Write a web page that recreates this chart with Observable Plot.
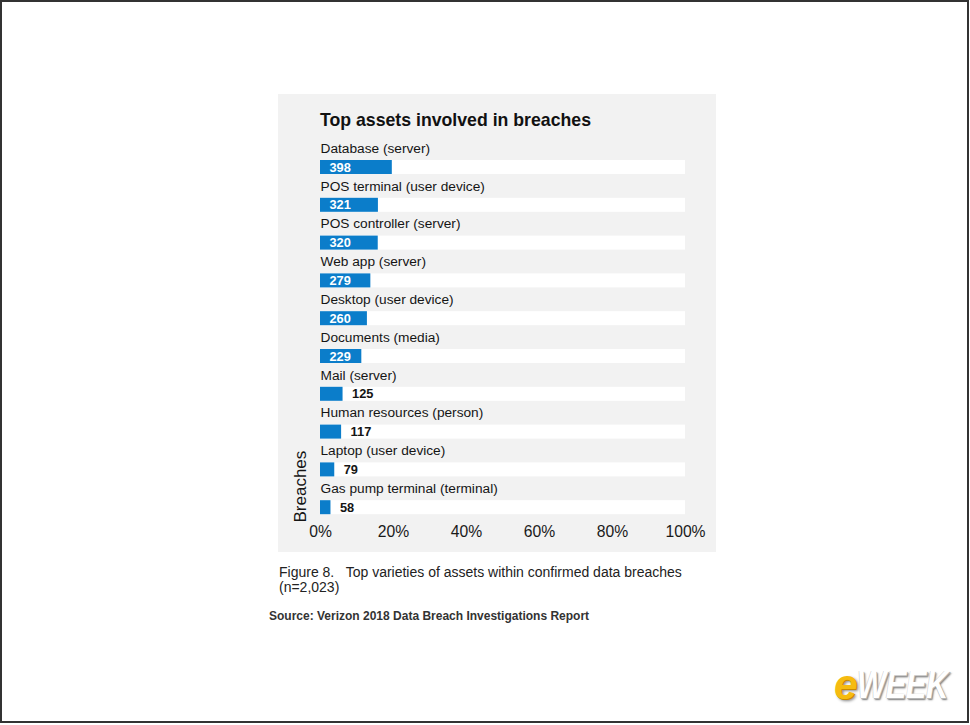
<!DOCTYPE html>
<html><head><meta charset="utf-8">
<script src="https://cdn.jsdelivr.net/npm/d3@7"></script>
<script src="https://cdn.jsdelivr.net/npm/@observablehq/plot@0.6"></script>
<style>
html,body{margin:0;padding:0;background:#fff;}
body{font-family:"Liberation Sans",Arial,sans-serif;}
#page{position:relative;box-sizing:border-box;width:969px;height:723px;border:2px solid #333;background:#fff;overflow:hidden;}
#chart{position:absolute;left:276px;top:92px;}
#chart svg{display:block;}
#title{position:absolute;left:318px;top:109px;font-size:17.7px;line-height:18px;font-weight:bold;color:#111;white-space:nowrap;}
#caption{position:absolute;left:277px;top:563px;font-size:14px;line-height:15px;color:#222;white-space:pre;}
#source{position:absolute;left:267px;top:607px;font-size:12px;line-height:14px;font-weight:bold;color:#333;white-space:nowrap;}
.logo{position:absolute;white-space:nowrap;font-family:"Liberation Sans",Arial,sans-serif;font-weight:bold;font-style:italic;}
#logoE{left:832px;top:662px;font-size:42px;line-height:42px;color:#f6bb10;text-shadow:1px 1px 0 #c98a00,2px 2px 3px #888;}
#logoW{left:855px;top:663px;font-size:39px;line-height:39px;color:#fff;transform:scaleX(0.79);transform-origin:0 0;letter-spacing:-0.5px;text-shadow:1px 1px 0 #b5b5b5,2px 2px 2px #777,-0.5px -0.5px 0 #ccc;}
</style>
</head><body>
<div id="page">
  <div id="chart"></div>
  <div id="title">Top assets involved in breaches</div>
  <div id="caption">Figure 8.   Top varieties of assets within confirmed data breaches
(n=2,023)</div>
  <div id="source">Source: Verizon 2018 Data Breach Investigations Report</div>
  <div class="logo" id="logoE">e</div>
  <div class="logo" id="logoW">WEEK</div>
</div>
<script>
const categories = [
  "Database (server)",
  "POS terminal (user device)",
  "POS controller (server)",
  "Web app (server)",
  "Desktop (user device)",
  "Documents (media)",
  "Mail (server)",
  "Human resources (person)",
  "Laptop (user device)",
  "Gas pump terminal (terminal)"
];
const breaches = [398, 321, 320, 279, 260, 229, 125, 117, 79, 58];
const totalBreaches = 2023;
const xTicks = [0, 0.2, 0.4, 0.6, 0.8, 1];
const axisLabel = "Breaches";

const data = categories.map((c, i) => ({asset: c, count: breaches[i], share: breaches[i] / totalBreaches}));
const inside = data.filter(d => d.count >= 200);
const outside = data.filter(d => d.count < 200);

const barColor = "#0b7dca";
const font = "'Liberation Sans', Arial, sans-serif";

const chart = Plot.plot({
  width: 438,
  height: 458,
  marginLeft: 42,
  marginRight: 31,
  marginTop: 47,
  marginBottom: 33,
  style: {background: "#f2f2f2", fontFamily: font, fontSize: "14px", overflow: "visible"},
  x: {domain: [0, 1], axis: null, round: false},
  y: {domain: categories, axis: null, padding: 0, round: false},
  marks: [
    Plot.barX(data, {y: "asset", x1: () => 0, x2: () => 1, fill: "#ffffff", insetTop: 19, insetBottom: 4.8}),
    Plot.barX(data, {y: "asset", x1: () => 0, x2: "share", fill: barColor, insetTop: 19, insetBottom: 4.8}),
    Plot.text(data, {y: "asset", x: () => 0, text: "asset", textAnchor: "start", dy: -11.9, fontSize: 13.7, fill: "#151515"}),
    Plot.text(inside, {y: "asset", x: () => 0, text: d => String(d.count), textAnchor: "start", dx: 9, dy: 7.1, fontSize: 12.8, fontWeight: "bold", fill: "#ffffff"}),
    Plot.text(outside, {y: "asset", x: "share", text: d => String(d.count), textAnchor: "start", dx: 9, dy: 7.1, fontSize: 12.8, fontWeight: "bold", fill: "#151515"}),
    Plot.axisX({ticks: xTicks, tickFormat: d3.format(".0%"), tickSize: 0, tickPadding: 6, fontSize: 15.7, color: "#1a1a1a", label: null}),
    Plot.text([axisLabel], {frameAnchor: "bottom-left", rotate: -90, textAnchor: "start", dx: -14.8, dy: 3, fontSize: 17, fill: "#151515"})
  ]
});
document.getElementById("chart").appendChild(chart);
</script>
</body></html>
